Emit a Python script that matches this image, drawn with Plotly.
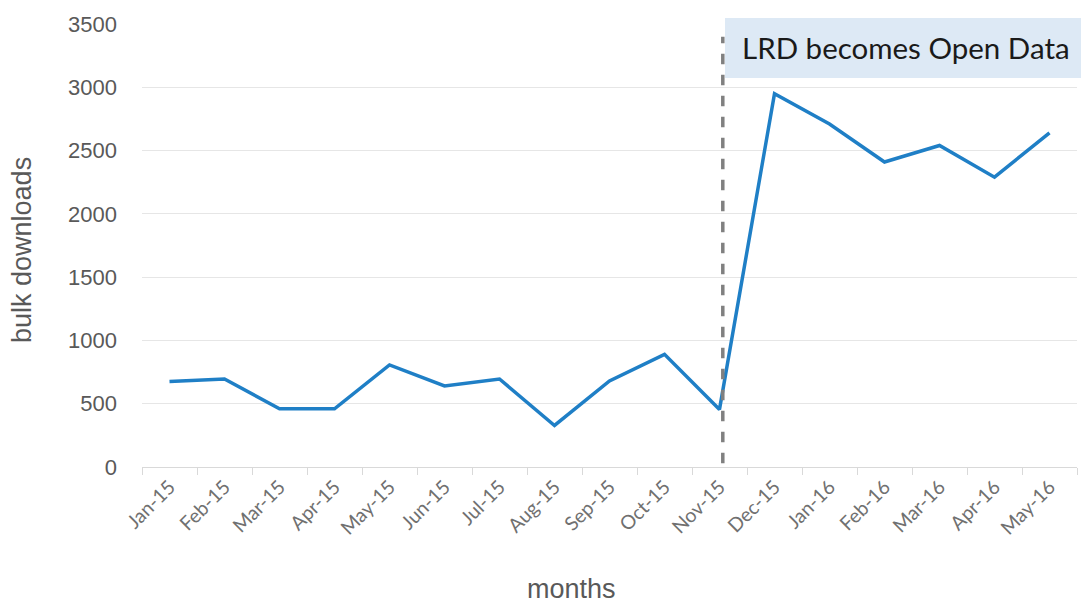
import plotly.graph_objects as go

months = ["Jan-15", "Feb-15", "Mar-15", "Apr-15", "May-15", "Jun-15", "Jul-15",
          "Aug-15", "Sep-15", "Oct-15", "Nov-15", "Dec-15", "Jan-16", "Feb-16",
          "Mar-16", "Apr-16", "May-16"]
downloads = [675, 695, 460, 460, 806, 640, 695, 328, 680, 890, 455, 2950, 2710,
             2410, 2540, 2290, 2640]
y_ticks = [0, 500, 1000, 1500, 2000, 2500, 3000, 3500]
event_label = "LRD becomes Open Data"
event_month_index = 10.06

fig = go.Figure()
fig.add_trace(go.Scatter(
    x=months, y=downloads, mode="lines",
    line=dict(color="#1f7fc6", width=3.5),
    showlegend=False, hoverinfo="x+y",
))

# dashed event marker
fig.add_shape(type="line", xref="x", yref="y",
              x0=event_month_index, x1=event_month_index, y0=30, y1=3400,
              line=dict(color="#808080", width=3.5, dash="dash"))

# label box
fig.add_shape(type="rect", xref="paper", yref="paper",
              x0=(725 - 142) / 935, x1=1.2,
              y0=(467 - 78) / 443, y1=(467 - 18) / 443,
              fillcolor="#dde9f5", line=dict(width=0), layer="below")
fig.add_annotation(xref="paper", yref="paper",
                   x=(740 - 142) / 935, y=(467 - 47) / 443,
                   xanchor="left", yanchor="middle", showarrow=False,
                   text=event_label,
                   font=dict(family="Lato, Open Sans, sans-serif", size=29.5, color="#1a1a1a"))

fig.add_annotation(xref="paper", yref="paper", x=(571 - 142) / 935, y=(467 - 589) / 443,
                   xanchor="center", yanchor="middle", showarrow=False,
                   text="months",
                   font=dict(family="Liberation Sans, Arial, sans-serif", size=27, color="#595959"))
fig.add_annotation(xref="paper", yref="paper", x=(22 - 142) / 935, y=(467 - 250) / 443,
                   xanchor="center", yanchor="middle", showarrow=False, textangle=-90,
                   text="bulk downloads",
                   font=dict(family="Liberation Sans, Arial, sans-serif", size=27, color="#595959"))

fig.update_xaxes(
    type="category", categoryorder="array", categoryarray=months,
    range=[-0.5, len(months) - 0.5],
    showgrid=False, showline=True, linecolor="#d9d9d9", linewidth=1,
    ticks="outside", tickson="boundaries", ticklen=7, tickcolor="#d9d9d9",
    tickangle=-45,
    tickfont=dict(family="Lato, Open Sans, sans-serif", size=19.5, color="#707070"),
    zeroline=False,
)
fig.update_yaxes(
    range=[0, 3500], tickvals=y_ticks,
    showgrid=True, gridcolor="#e6e6e6", gridwidth=1,
    zeroline=False, showline=False,
    ticklabelstandoff=24,
    tickfont=dict(family="Liberation Sans, Arial, sans-serif", size=22, color="#595959"),
)
fig.update_layout(
    width=1081, height=603,
    margin=dict(l=142, r=4, t=24, b=136),
    plot_bgcolor="white", paper_bgcolor="white",
)
fig.write_html("out.html")
